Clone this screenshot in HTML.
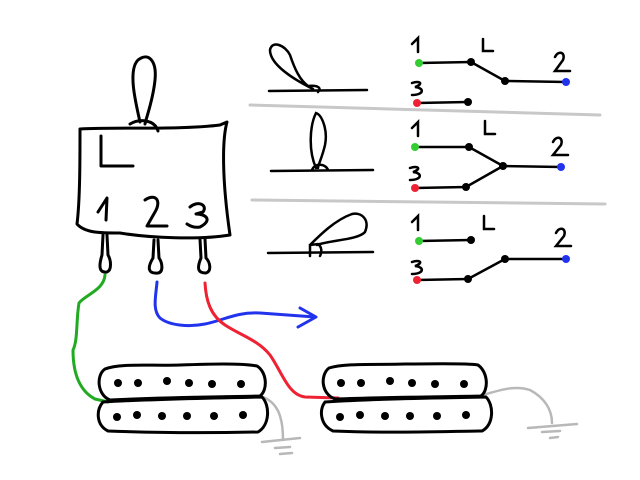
<!DOCTYPE html>
<html><head><meta charset="utf-8"><style>html,body{margin:0;padding:0;background:#fff}svg{display:block}</style></head>
<body>
<svg width="640" height="480" viewBox="0 0 640 480" xmlns="http://www.w3.org/2000/svg">
<g fill="none" stroke-linecap="round" stroke-linejoin="round">
<path d="M250 105 L600 115" stroke="#c8c8c8" stroke-width="3"/>
<path d="M252 200 L605 204" stroke="#c8c8c8" stroke-width="3"/>
<g stroke="#000" stroke-width="3">
<path d="M140 122 C135 100 128 70 138 60 C148 52 157 60 155 80 C153 100 147 115 145 124"/>
<path d="M130 124 C140 118 155 120 158 131"/>
<path d="M80 129 C120 127 180 130 220 125 L227 122 C222 140 222 180 230 235 C200 240 150 238 120 233 C100 233 85 233 77 224 C80 200 80 160 80 129Z"/>
<path d="M101 136 L101 166 L133 166"/>
<path d="M98 212 L107 198 L106 220"/>
<path d="M145 200 C155 193 162 200 155 212 L147 226 L167 226"/>
<path d="M190 207 C198 200 208 205 203 212 L196 214 C206 214 213 220 200 227 C195 228 190 226 187 224"/>
<path d="M103 235 L102 255 C98 268 100 273 107 272 C112 270 111 260 108 255 L107 235"/>
<path d="M154 240 L153 258 C147 268 148 274 158 273 C164 272 162 262 159 258 L158 240"/>
<path d="M200 239 L201 258 C196 270 199 273 206 273 C212 271 210 262 206 258 L205 239"/>
</g>
<path d="M105 275 C104 290 85 295 79 303 C76 320 78 340 73 350 C73 370 78 390 95 399 L108 402" stroke="#22aa22" stroke-width="3"/>
<path d="M157 282 C156 295 152 310 160 318 C170 326 190 327 205 324 C225 320 235 312 260 313 L315 317 M300 308 L316 317 L298 327" stroke="#2233ee" stroke-width="3"/>
<path d="M205 283 C206 300 210 315 225 325 C240 335 258 340 270 355 C282 372 288 395 305 397 L338 398" stroke="#ee2233" stroke-width="3"/>
<path d="M263 397 C275 402 283 412 283 440 M262 442 L300 438 M275 448 L290 447 M280 454 L292 453" stroke="#b8b8b8" stroke-width="2.5"/>
<path d="M483 395 C500 390 515 385 530 390 C545 398 552 410 552 423 M528 428 L577 424 M542 432 L560 431 M550 438 L558 437" stroke="#b8b8b8" stroke-width="2.5"/>
<g stroke="#000" stroke-width="3">
<path d="M105 369 C120 363 150 366 180 365 C210 364 240 363 257 366 C267 372 268 390 260 396 C220 397 170 397 110 400 C97 395 96 375 105 369Z"/>
<path d="M103 402 C150 399 210 398 262 397 C270 405 270 425 258 432 C210 433 160 433 108 431 C96 425 96 410 103 402Z"/>
<path d="M329 368 C345 363 375 365 405 364 C435 364 465 363 478 365 C488 372 489 390 481 396 C440 397 390 397 335 399 C321 394 320 375 329 368Z"/>
<path d="M325 402 C370 399 430 398 486 397 C494 405 494 425 482 431 C430 432 380 433 333 431 C320 425 319 410 325 402Z"/>
</g>
</g>
<g fill="#000">
<circle cx="118" cy="383" r="4"/><circle cx="138" cy="383" r="4"/><circle cx="167" cy="381" r="4"/><circle cx="189" cy="383" r="4"/><circle cx="212" cy="384" r="4"/><circle cx="241" cy="384" r="4"/>
<circle cx="117" cy="417" r="4"/><circle cx="137" cy="415" r="4"/><circle cx="162" cy="416" r="4"/><circle cx="187" cy="416" r="4"/><circle cx="214" cy="416" r="4"/><circle cx="243" cy="415" r="4"/>
<circle cx="341" cy="383" r="4"/><circle cx="361" cy="383" r="4"/><circle cx="390" cy="381" r="4"/><circle cx="412" cy="383" r="4"/><circle cx="435" cy="384" r="4"/><circle cx="464" cy="384" r="4"/>
<circle cx="340" cy="417" r="4"/><circle cx="360" cy="415" r="4"/><circle cx="385" cy="416" r="4"/><circle cx="410" cy="416" r="4"/><circle cx="437" cy="416" r="4"/><circle cx="466" cy="415" r="4"/>
</g>
<g fill="none" stroke="#000" stroke-width="2.5" stroke-linecap="round">
<path d="M269 91 L367 90"/>
<path d="M313 89 C295 80 270 65 270 50 C272 40 285 45 290 55 C295 70 300 80 308 86 C318 85 322 88 318 92"/>
<path d="M271 171 L373 170"/>
<path d="M316 168 C308 150 310 125 316 113 C322 115 328 130 325 145 C322 158 318 165 318 168 M312 170 C315 162 326 164 328 170"/>
<path d="M268 253 L373 252"/>
<path d="M310 245 C320 235 335 220 352 214 C362 212 370 220 365 232 C358 240 330 240 317 245 M310 256 L310 245 L318 244 C322 247 322 252 320 256"/>
</g>
<g stroke="#000" stroke-width="2.5" fill="none" stroke-linecap="round">
<path d="M419 63 L471 62 L505 81 L566 82"/>
<path d="M417 103 L468 102"/>
<path d="M415 147 L469 147 L503 166 L561 167 M415 188 L466 187 L503 166"/>
<path d="M419 241 L471 240 M417 280 L468 279 L505 259 L566 259"/>
<path d="M412 44 L418 38 L418 52"/><path d="M483 39 L483 51 L493 51"/><path d="M555 57 C558 50 566 52 563 60 L555 71 L570 71"/><path d="M412 83 C420 80 424 84 415 87 C425 88 424 95 412 95"/>
<path d="M412 128 L418 122 L418 136"/><path d="M485 121 L485 134 L495 134"/><path d="M553 142 C556 135 564 137 561 145 L553 155 L568 155"/><path d="M410 168 C418 165 422 169 413 172 C423 173 422 180 410 180"/>
<path d="M412 222 L418 216 L418 230"/><path d="M484 216 L484 229 L494 229"/><path d="M556 233 C559 226 567 228 564 236 L556 246 L571 246"/><path d="M412 262 C420 259 424 263 415 266 C425 267 424 274 412 274"/>
</g>
<g>
<circle cx="419" cy="63" r="4" fill="#33cc33"/><circle cx="471" cy="62" r="4"/><circle cx="505" cy="81" r="4"/><circle cx="566" cy="82" r="4" fill="#2233ee"/>
<circle cx="417" cy="103" r="4" fill="#ee2233"/><circle cx="468" cy="102" r="4"/>
<circle cx="415" cy="147" r="4" fill="#33cc33"/><circle cx="469" cy="147" r="4"/><circle cx="503" cy="166" r="4"/><circle cx="561" cy="167" r="4" fill="#2233ee"/>
<circle cx="415" cy="188" r="4" fill="#ee2233"/><circle cx="466" cy="187" r="4"/>
<circle cx="419" cy="241" r="4" fill="#33cc33"/><circle cx="471" cy="240" r="4"/>
<circle cx="417" cy="280" r="4" fill="#ee2233"/><circle cx="468" cy="279" r="4"/><circle cx="505" cy="259" r="4"/><circle cx="566" cy="259" r="4" fill="#2233ee"/>
</g>
<text x="-100" y="-100" font-family="Liberation Sans, sans-serif" font-size="10">L 1 2 3</text>
</svg>
</body></html>
